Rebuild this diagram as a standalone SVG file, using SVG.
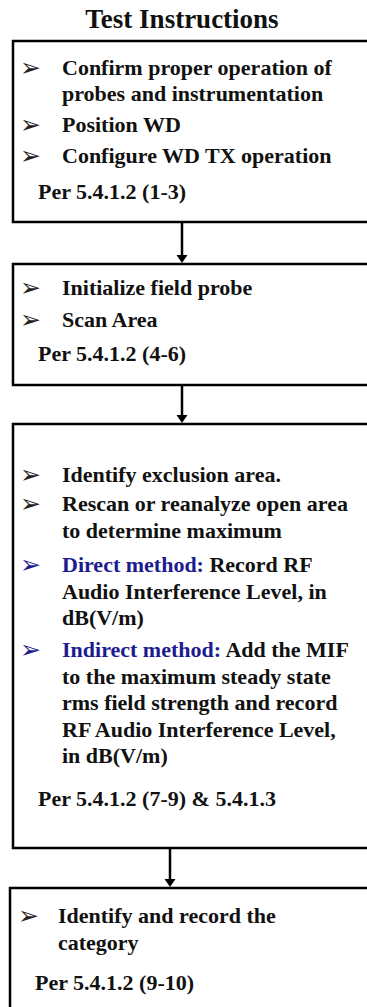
<svg xmlns="http://www.w3.org/2000/svg" width="367" height="1007" viewBox="0 0 367 1007">
<style>
.box{fill:#fff;stroke:#000;stroke-width:2.5}
.t{font-family:"Liberation Serif","Times New Roman",serif;font-weight:bold;font-size:22px;fill:#111}
.title{font-family:"Liberation Serif","Times New Roman",serif;font-weight:bold;font-size:27px;fill:#111}
.b{font-family:"DejaVu Sans",sans-serif;font-size:25px;fill:#222}
.blue{fill:#1c1c90}
.con{stroke:#000;stroke-width:2.5;fill:none}
</style>
<rect width="367" height="1007" fill="#fff"/>
<text class="title" x="182" y="28" text-anchor="middle">Test Instructions</text>
<g id="connectors">
<line class="con" x1="182" y1="222" x2="182" y2="258"/>
<path d="M176.5,255 L187.5,255 L182,263 Z" fill="#000"/>
<line class="con" x1="182" y1="385" x2="182" y2="418"/>
<path d="M176.5,415 L187.5,415 L182,423 Z" fill="#000"/>
<line class="con" x1="170" y1="848" x2="170" y2="882"/>
<path d="M164.5,879 L175.5,879 L170,887 Z" fill="#000"/>
</g>
<g id="node1">
<rect class="box" x="13" y="41" width="400" height="181"/>
<text class="b" x="20" y="76">➢</text>
<text class="t" x="62" y="75">Confirm proper operation of</text>
<text class="t" x="62" y="101">probes and instrumentation</text>
<text class="b" x="20" y="133">➢</text>
<text class="t" x="62" y="132">Position WD</text>
<text class="b" x="20" y="164">➢</text>
<text class="t" x="62" y="163">Configure WD TX operation</text>
<text class="t" x="38" y="199">Per 5.4.1.2 (1-3)</text>
</g>
<g id="node2">
<rect class="box" x="13" y="264" width="400" height="121"/>
<text class="b" x="20" y="296">➢</text>
<text class="t" x="62" y="295">Initialize field probe</text>
<text class="b" x="20" y="328">➢</text>
<text class="t" x="62" y="327">Scan Area</text>
<text class="t" x="38" y="361">Per 5.4.1.2 (4-6)</text>
</g>
<g id="node3">
<rect class="box" x="13" y="424" width="400" height="424"/>
<text class="b" x="20" y="483">➢</text>
<text class="t" x="62" y="482">Identify exclusion area.</text>
<text class="b" x="20" y="512">➢</text>
<text class="t" x="62" y="511">Rescan or reanalyze open area</text>
<text class="t" x="62" y="538">to determine maximum</text>
<text class="b blue" x="20" y="573">➢</text>
<text class="t" x="62" y="572"><tspan class="blue">Direct method:</tspan> Record RF</text>
<text class="t" x="62" y="599">Audio Interference Level, in</text>
<text class="t" x="62" y="625">dB(V/m)</text>
<text class="b blue" x="20" y="658">➢</text>
<text class="t" x="62" y="657"><tspan class="blue">Indirect method:</tspan> Add the MIF</text>
<text class="t" x="62" y="684">to the maximum steady state</text>
<text class="t" x="62" y="710">rms field strength and record</text>
<text class="t" x="62" y="737">RF Audio Interference Level,</text>
<text class="t" x="62" y="763">in dB(V/m)</text>
<text class="t" x="38" y="806">Per 5.4.1.2 (7-9) &amp; 5.4.1.3</text>
</g>
<g id="node4">
<rect class="box" x="10" y="888" width="400" height="200"/>
<text class="b" x="18" y="924">➢</text>
<text class="t" x="58" y="923">Identify and record the</text>
<text class="t" x="58" y="950">category</text>
<text class="t" x="35" y="990">Per 5.4.1.2 (9-10)</text>
</g>
</svg>
